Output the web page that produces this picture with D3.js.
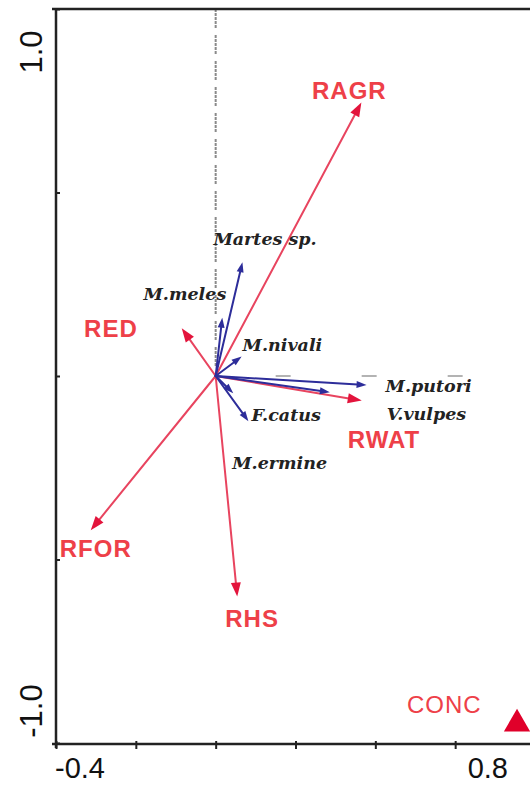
<!DOCTYPE html>
<html>
<head>
<meta charset="utf-8">
<script src="https://cdn.jsdelivr.net/npm/d3@7"></script>
<style>
  html, body { margin: 0; padding: 0; background: #fff; }
  svg { display: block; }
</style>
</head>
<body>
<svg id="chart" width="530" height="785"></svg>
<script>
// Ordination biplot: environmental variables (red) and species (blue)

// Environmental variable arrows: names and axis-1 / axis-2 scores
const envNames = ["RAGR", "RED", "RFOR", "RHS", "RWAT"];
const envX = [0.365, -0.085, -0.313, 0.054, 0.366];
const envY = [0.745, 0.130, -0.420, -0.601, -0.067];

// Nominal variable shown as a centroid
const centroidNames = ["CONC"];
const centroidX = [0.755];
const centroidY = [-0.948];

// Species arrows
const spNames = ["Martes sp.", "M.meles", "M.nivali", "M.putori", "V.vulpes", "F.catus", "M.ermine"];
const spX = [0.067, 0.0165, 0.065, 0.378, 0.286, 0.082, 0.044];
const spY = [0.310, 0.159, 0.053, -0.0245, -0.044, -0.123, -0.047];

// Axis end labels
const xTickLabels = ["-0.4", "0.8"];
const yTickLabels = ["1.0", "-1.0"];
const xTicks = [-0.4, -0.2, 0, 0.2, 0.4, 0.6, 0.8];
const yTicks = [-1.0, -0.5, 0, 0.5, 1.0];

// Label placement relative to the arrow tip (pixels)
const envLabelLayout = {
  "RAGR": { dx: -12, dy: -4, anchor: "middle" },
  "RED":  { dx: -44, dy: 9,  anchor: "end" },
  "RFOR": { dx: -31, dy: 27, anchor: "start" },
  "RHS":  { dx: -12, dy: 30, anchor: "start" },
  "RWAT": { dx: -14, dy: 47, anchor: "start" },
  "CONC": { dx: -110, dy: -11, anchor: "start" }
};
const spLabelLayout = {
  "Martes sp.": { dx: -29, dy: -17, anchor: "start" },
  "M.meles":    { dx: 4,   dy: -18, anchor: "end" },
  "M.nivali":   { dx: 1,   dy: -6,  anchor: "start" },
  "M.putori":   { dx: 19,  dy: 7,   anchor: "start" },
  "V.vulpes":   { dx: 57,  dy: 28,  anchor: "start" },
  "F.catus":    { dx: 3,   dy: 0,   anchor: "start" },
  "M.ermine":   { dx: -1,  dy: 76,  anchor: "start" }
};

const svg = d3.select("#chart");
const W = 530, H = 785;

const x = d3.scaleLinear().domain([-0.4, 0.8]).range([56, 535]);
const y = d3.scaleLinear().domain([-1, 1]).range([743, 9]);

const axisColor = "#222";
const redLine = "#e8445f";
const redHead = "#e3143c";
const redText = "#ee4048";
const blue = "#2d2d9a";

// Reference lines through the origin
svg.append("line")
  .attr("x1", x(0)).attr("x2", x(0))
  .attr("y1", y(1)).attr("y2", y(0))
  .attr("stroke", "#8a8a8a").attr("stroke-width", 2)
  .attr("stroke-dasharray", "3,1,3,1,3,1,3,1,3,7");

svg.append("line")
  .attr("x1", x(0)).attr("x2", W)
  .attr("y1", y(0)).attr("y2", y(0))
  .attr("stroke", "#9a9a9a").attr("stroke-width", 1.6)
  .attr("stroke-dasharray", "15,71")
  .attr("stroke-dashoffset", 26);

// Frame: top border, left and bottom axes
svg.append("line")
  .attr("x1", 52).attr("x2", W).attr("y1", y(1)).attr("y2", y(1))
  .attr("stroke", axisColor).attr("stroke-width", 2.5);

const xAxis = d3.axisBottom(x).tickValues(xTicks).tickSize(5).tickFormat("");
const gx = svg.append("g").attr("transform", `translate(0,${y(-1) + 1})`).call(xAxis);
gx.select(".domain").attr("d", `M52,0H${W}`).attr("stroke", axisColor).attr("stroke-width", 2.5);
gx.selectAll(".tick line").attr("y1", -3).attr("stroke", axisColor).attr("stroke-width", 2);

const yAxis = d3.axisLeft(y).tickValues(yTicks).tickSize(4).tickFormat("");
const gy = svg.append("g").attr("transform", `translate(${x(-0.4)},0)`).call(yAxis);
gy.select(".domain").attr("d", `M0,${y(1) - 1}V${y(-1) + 5}`).attr("stroke", axisColor).attr("stroke-width", 2.5);
gy.selectAll(".tick line").attr("x2", 4).attr("stroke", axisColor).attr("stroke-width", 2);

// Axis end labels
const tickFont = "Liberation Sans, Arial, sans-serif";
svg.append("text").text(xTickLabels[0])
  .attr("x", x(-0.4) - 1).attr("y", 778)
  .attr("font-family", tickFont).attr("font-size", 29)
  .attr("fill", "#111");
svg.append("text").text(xTickLabels[1])
  .attr("x", 508).attr("y", 778).attr("text-anchor", "end")
  .attr("font-family", tickFont).attr("font-size", 29)
  .attr("fill", "#111");
svg.append("text").text(yTickLabels[0])
  .attr("transform", `translate(42,52) rotate(-90)`).attr("text-anchor", "middle")
  .attr("font-family", tickFont).attr("font-size", 31)
  .attr("fill", "#111");
svg.append("text").text(yTickLabels[1])
  .attr("transform", `translate(42,711) rotate(-90)`).attr("text-anchor", "middle")
  .attr("font-family", tickFont).attr("font-size", 31)
  .attr("fill", "#111");

// Arrow drawing helper: shaft from origin, filled head at the tip
function arrow(g, vx, vy, color, headColor, headLen, headW, width) {
  const x0 = x(0), y0 = y(0), x1 = x(vx), y1 = y(vy);
  const dx = x1 - x0, dy = y1 - y0;
  const len = Math.hypot(dx, dy);
  const ux = dx / len, uy = dy / len;
  const bx = x1 - ux * headLen, by = y1 - uy * headLen;
  g.append("line")
    .attr("x1", x0).attr("y1", y0).attr("x2", bx + ux).attr("y2", by + uy)
    .attr("stroke", color).attr("stroke-width", width).attr("stroke-linecap", "round");
  g.append("path")
    .attr("d", `M${x1},${y1}L${bx - uy * headW / 2},${by + ux * headW / 2}L${bx + uy * headW / 2},${by - ux * headW / 2}Z`)
    .attr("fill", headColor);
}

const envData = envNames.map((n, i) => ({ name: n, x: envX[i], y: envY[i] }));
const spData = spNames.map((n, i) => ({ name: n, x: spX[i], y: spY[i] }));
const centroidData = centroidNames.map((n, i) => ({ name: n, x: centroidX[i], y: centroidY[i] }));

const gEnv = svg.append("g");
envData.forEach(d => arrow(gEnv, d.x, d.y, redLine, redHead, 14, 10, 2));

const gSp = svg.append("g");
spData.forEach(d => arrow(gSp, d.x, d.y, blue, blue, 10, 7, 2));

// Centroid triangle
svg.append("g").selectAll("path").data(centroidData).join("path")
  .attr("d", d3.symbol().type(d3.symbolTriangle).size(300))
  .attr("transform", d => `translate(${x(d.x)},${y(d.y)})`)
  .attr("fill", "#e0002a");

// Environmental labels
svg.append("g").selectAll("text").data(envData.concat(centroidData)).join("text")
  .text(d => d.name)
  .attr("x", d => x(d.x) + envLabelLayout[d.name].dx)
  .attr("y", d => y(d.y) + envLabelLayout[d.name].dy)
  .attr("text-anchor", d => envLabelLayout[d.name].anchor)
  .attr("font-family", "Liberation Sans, Arial, sans-serif")
  .attr("font-size", 24)
  .attr("font-weight", d => d.name === "CONC" ? "normal" : "bold")
  .attr("letter-spacing", 1)
  .attr("fill", redText);

// Species labels
svg.append("g").selectAll("text").data(spData).join("text")
  .text(d => d.name)
  .attr("x", d => x(d.x) + spLabelLayout[d.name].dx)
  .attr("y", d => y(d.y) + spLabelLayout[d.name].dy)
  .attr("text-anchor", d => spLabelLayout[d.name].anchor)
  .attr("font-family", "DejaVu Serif, serif")
  .attr("font-size", 17.5)
  .attr("font-style", "italic")
  .attr("font-weight", "bold")
  .attr("fill", "#222");
</script>
</body>
</html>
